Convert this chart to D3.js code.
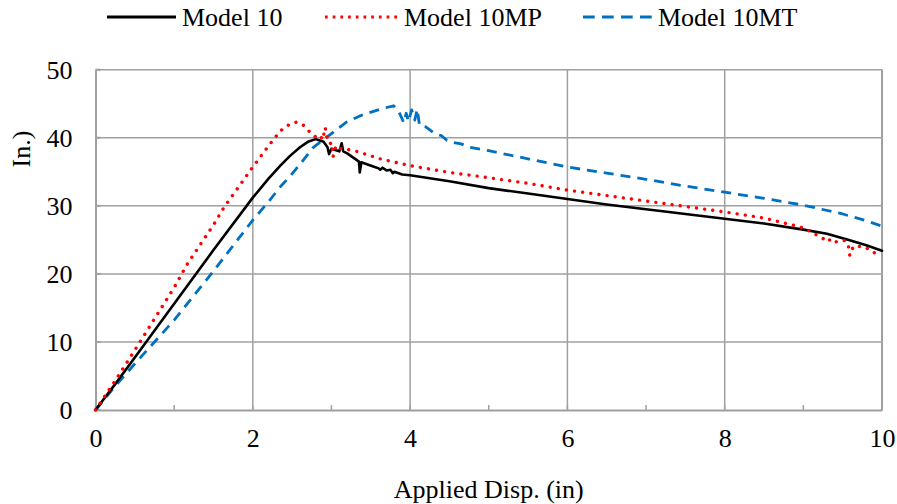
<!DOCTYPE html>
<html><head><meta charset="utf-8">
<script src="https://cdn.jsdelivr.net/npm/d3@7"></script>
<style>body{margin:0;background:#fff}svg{display:block}text{font-family:"Liberation Serif","Times New Roman",serif;fill:#000}</style>
</head><body>
<svg id="c" width="897" height="504"></svg>
<script>
const seriesNames = ["Model 10", "Model 10MP", "Model 10MT"];
const xTicks = [0, 2, 4, 6, 8, 10];
const xMinorTicks = [1, 3, 5, 7, 9];
const yTicks = [0, 10, 20, 30, 40, 50];
const xLabel = "Applied Disp. (in)";
const yLabel = "In.)";

const m10X = [0,0.25,0.5,1.0,1.5,2.0,2.2,2.35,2.47,2.6,2.7,2.8,2.9,2.95,2.97,3.0,3.05,3.1,3.13,3.15,3.2,3.3,3.35,3.36,3.38,3.45,3.55,3.6,3.62,3.65,3.7,3.75,3.78,3.8,3.9,4.0,4.5,5.0,5.5,6.0,6.5,7.0,7.5,8.0,8.5,9.0,9.3,9.6,9.8,10.0];
const m10Y = [0,3.8,7.7,15.6,23.5,31.2,34.0,35.9,37.3,38.6,39.4,39.8,39.4,38.6,37.6,38.4,38.2,38.0,39.2,38.0,37.7,36.9,36.5,34.9,36.4,36.1,35.7,35.5,35.3,35.6,35.2,35.3,34.8,35.0,34.6,34.5,33.6,32.6,31.8,31.0,30.2,29.5,28.8,28.1,27.4,26.5,25.9,24.9,24.2,23.4];

const m10mpX = [0,0.25,0.5,1.0,1.17,1.5,1.63,2.0,2.2,2.35,2.47,2.56,2.65,2.72,2.77,2.82,2.86,2.89,2.92,2.95,2.98,3.0,3.02,3.05,3.08,3.12,3.15,3.2,3.32,3.62,4.0,4.5,4.89,5.5,6.0,6.5,7.0,7.5,8.0,8.5,8.96,9.1,9.17,9.25,9.3,9.36,9.42,9.47,9.53,9.57,9.59,9.62,9.67,9.72,9.8,9.85,9.9,10.0];
const m10mpY = [0,4.3,8.8,18.0,21.5,27.2,29.7,35.7,38.8,41.0,42.0,42.3,41.8,40.9,40.4,39.9,40.2,39.7,41.5,39.8,39.1,39.3,37.2,38.5,38.9,38.4,38.3,38.3,38.0,36.9,35.9,34.9,34.3,33.3,32.3,31.5,30.7,29.9,29.1,28.2,26.9,26.2,25.7,25.2,24.7,25.2,24.7,24.8,24.9,24.3,22.7,23.7,24.2,24.0,23.8,23.5,23.1,23.3];

const m10mtX = [0,0.25,0.5,1.0,1.5,2.0,2.2,2.35,2.47,2.6,2.77,3.0,3.19,3.4,3.62,3.79,3.85,3.89,3.92,3.95,3.98,4.02,4.06,4.09,4.12,4.2,4.29,4.34,4.4,4.47,4.55,4.65,4.76,5.0,5.5,6.0,6.5,7.0,7.5,8.0,8.5,9.0,9.5,9.8,10.0];
const m10mtY = [0,3.5,6.8,13.2,20.4,27.9,30.6,32.8,34.3,36.1,38.6,40.6,42.3,43.4,44.2,44.7,44.0,43.0,42.2,43.6,42.4,44.1,42.6,44.2,41.8,41.6,40.8,40.5,40.3,39.6,39.3,39.1,38.6,38.1,36.9,35.7,34.8,33.9,32.9,32.0,31.1,30.1,28.8,27.8,27.0];

const colors = ["#000000", "#ff0000", "#0070c0"];

const svg = d3.select("#c");
const L = 95.5, R = 882, T = 69.7, B = 410;
const x = d3.scaleLinear().domain([0, 10]).range([L, R]);
const y = d3.scaleLinear().domain([0, 50]).range([B, T]);
const grid = "#a0a0a0";
const FS = 26;

// gridlines
svg.append("g").selectAll("line").data(yTicks.filter(d => d > 0)).join("line")
  .attr("x1", L).attr("x2", R).attr("y1", d => y(d)).attr("y2", d => y(d))
  .attr("stroke", grid).attr("stroke-width", 1.5);
svg.append("g").selectAll("line").data(xTicks.filter(d => d > 0)).join("line")
  .attr("y1", T).attr("y2", B).attr("x1", d => x(d)).attr("x2", d => x(d))
  .attr("stroke", grid).attr("stroke-width", 1.5);

// axes
const xAxis = d3.axisBottom(x).tickValues(xTicks).tickSize(0).tickPadding(19).tickFormat(d3.format("d"));
const gx = svg.append("g").attr("transform", `translate(0,${B})`).call(xAxis);
gx.select(".domain").attr("stroke", grid).attr("stroke-width", 2);
gx.selectAll("text").attr("font-size", FS).attr("font-family", "Liberation Serif");
const yAxis = d3.axisLeft(y).tickValues(yTicks).tickSize(0).tickPadding(23);
const gy = svg.append("g").attr("transform", `translate(${L},0)`).call(yAxis);
gy.select(".domain").attr("stroke", grid).attr("stroke-width", 2);
gy.selectAll("text").attr("font-size", FS).attr("font-family", "Liberation Serif");

// minor / major ticks on x axis pointing up
svg.append("g").selectAll("line").data(xMinorTicks.concat(xTicks)).join("line")
  .attr("x1", d => x(d)).attr("x2", d => x(d)).attr("y1", B).attr("y2", B - 5)
  .attr("stroke", grid).attr("stroke-width", 1.5);
// y ticks pointing inward
svg.append("g").selectAll("line").data(yTicks).join("line")
  .attr("x1", L).attr("x2", L + 5).attr("y1", d => y(d)).attr("y2", d => y(d))
  .attr("stroke", grid).attr("stroke-width", 2);
// right border
svg.append("line").attr("x1", R).attr("x2", R).attr("y1", T).attr("y2", B)
  .attr("stroke", grid).attr("stroke-width", 2);

svg.append("clipPath").attr("id", "pc").append("rect")
  .attr("x", L - 3).attr("y", T - 3).attr("width", R - L + 6).attr("height", B - T + 6);

const line = d3.line().x(d => x(d[0])).y(d => y(d[1]));
const zip = (a, b) => a.map((v, i) => [v, b[i]]);

const styles = [
  {w: 2.6, dash: null, cap: "round"},
  {w: 3.4, dash: "0.01 8.2", cap: "round"},
  {w: 2.8, dash: "10 7", cap: "butt"}
];
[[2, zip(m10mtX, m10mtY)], [0, zip(m10X, m10Y)], [1, zip(m10mpX, m10mpY)]].forEach(([i, d]) => {
  svg.append("path").datum(d).attr("d", line).attr("fill", "none")
    .attr("stroke", colors[i]).attr("stroke-width", styles[i].w)
    .attr("stroke-linecap", styles[i].cap).attr("stroke-linejoin", "round")
    .attr("stroke-dasharray", styles[i].dash).attr("clip-path", "url(#pc)");
});

// axis titles
svg.append("text").attr("x", (L + R) / 2).attr("y", 498).attr("text-anchor", "middle")
  .attr("font-size", FS).text(xLabel);
svg.append("text").attr("transform", "translate(30,149) rotate(-90)").attr("text-anchor", "middle")
  .attr("font-size", FS).text(yLabel);

// legend
const leg = [
  {x1: 107, x2: 176, tx: 182},
  {x1: 325, x2: 398, tx: 404},
  {x1: 583, x2: 652, tx: 658}
];
const legDash = [null, "2.7 5", "11.7 7.3"];
seriesNames.forEach((n, i) => {
  const g = svg.append("g");
  g.append("line").attr("x1", leg[i].x1).attr("x2", leg[i].x2).attr("y1", 17).attr("y2", 17)
    .attr("stroke", colors[i]).attr("stroke-width", 2.8).attr("stroke-dasharray", legDash[i]);
  g.append("text").attr("x", leg[i].tx).attr("y", 26).attr("font-size", FS).text(n);
});
</script>
</body></html>
